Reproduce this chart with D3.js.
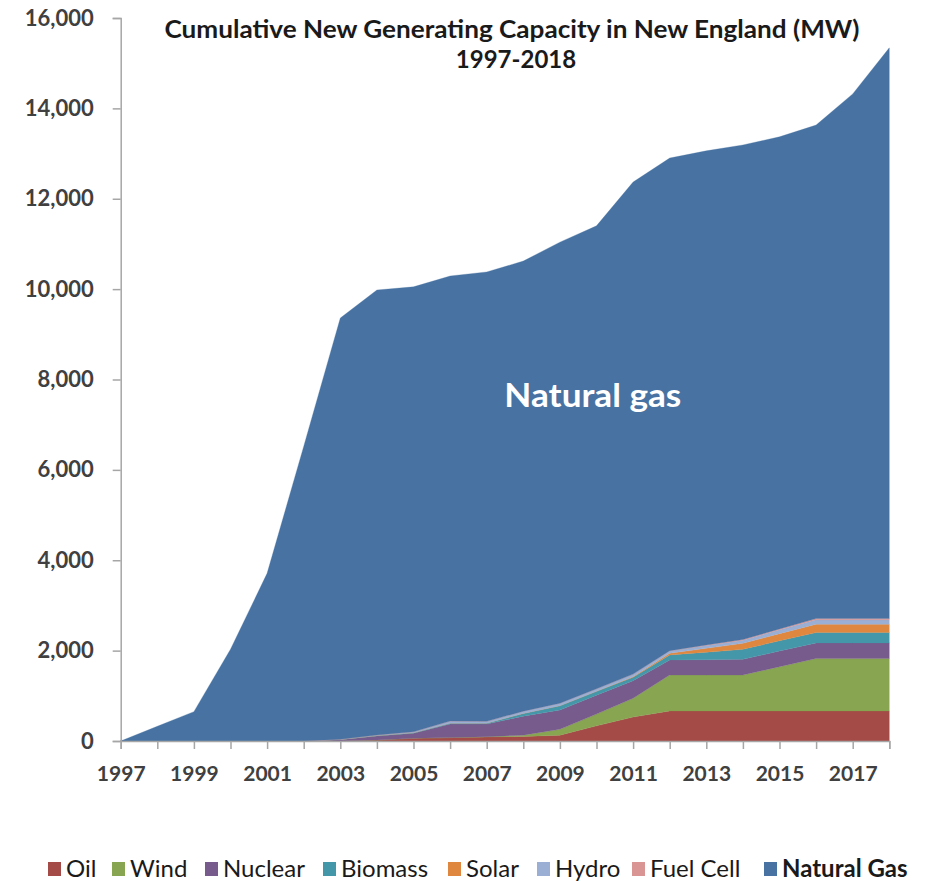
<!DOCTYPE html>
<html>
<head>
<meta charset="utf-8">
<script src="https://cdn.jsdelivr.net/npm/d3@7"></script>
<style>
  html, body { margin: 0; padding: 0; background: #ffffff; }
  svg { display: block; }
</style>
</head>
<body>
<svg id="chart" width="932" height="881"></svg>
<script>
// ---- DATA ----
const years = [1997,1998,1999,2000,2001,2002,2003,2004,2005,2006,2007,2008,2009,2010,2011,2012,2013,2014,2015,2016,2017,2018];
const oil      = [0,0,0,0,0,0,0,20,60,75,90,100,130,335,530,665,665,665,665,665,665,665];
const wind     = [0,0,0,0,0,0,0,0,0,0,5,30,128,260,415,795,795,795,980,1160,1160,1160];
const nuclear  = [0,0,0,0,0,0,30,90,110,300,280,420,428,420,390,335,340,347,347,346,346,346];
const biomass  = [0,0,0,0,0,0,5,10,15,20,20,60,95,85,75,110,165,222,226,230,230,230];
const solar    = [0,0,0,0,0,0,0,0,0,0,0,0,0,0,10,35,85,132,158,183,183,183];
const hydro    = [0,0,0,0,0,0,5,15,20,45,40,50,55,55,60,55,65,70,85,100,100,100];
const fuelCell = [0,0,0,0,0,0,0,0,0,0,0,0,0,0,0,5,10,15,20,25,25,25];
const naturalGas = [0,325,650,2030,3710,6520,9320,9845,9845,9850,9945,9960,10204,10245,10890,10900,10935,10944,10889,10921,11611,12631];

const seriesNames = ["Oil","Wind","Nuclear","Biomass","Solar","Hydro","Fuel Cell","Natural Gas"];
const seriesValues = [oil, wind, nuclear, biomass, solar, hydro, fuelCell, naturalGas];
const seriesColors = ["#a54b47","#88a552","#775b8c","#4497a9","#e0873f","#9aafd3","#d99594","#4872a2"];
const yTicks = [0,2000,4000,6000,8000,10000,12000,14000,16000];
const xTickLabels = [1997,1999,2001,2003,2005,2007,2009,2011,2013,2015,2017];
const titleLines = ["Cumulative New Generating Capacity in New England (MW)","1997-2018"];
const areaLabel = "Natural gas";

// ---- BUILD ----
const rows = years.map((yr, i) => {
  const r = { year: yr };
  seriesNames.forEach((n, k) => r[n] = seriesValues[k][i]);
  return r;
});

const svg = d3.select("#chart");
const W = 932, H = 881;
const margin = { left: 120.7, right: W - 889.3, top: 18, bottom: H - 741 };

const x = d3.scaleLinear().domain([1997, 2018]).range([margin.left, W - margin.right]);
const y = d3.scaleLinear().domain([0, 16000]).range([H - margin.bottom, margin.top]);

const stacked = d3.stack().keys(seriesNames)(rows);

const area = d3.area()
  .x(d => x(d.data.year))
  .y0(d => y(d[0]))
  .y1(d => y(d[1]));

const color = d3.scaleOrdinal().domain(seriesNames).range(seriesColors);

svg.append("g")
  .selectAll("path")
  .data(stacked)
  .join("path")
  .attr("d", area)
  .attr("fill", d => color(d.key))
  .attr("stroke", d => color(d.key))
  .attr("stroke-width", 0.3);

const axisColor = "#a6a6a6";
const fontFam = "Lato, 'Open Sans', 'DejaVu Sans', sans-serif";

// Y axis
const yAxis = d3.axisLeft(y).tickValues(yTicks).tickSize(8).tickPadding(19)
  .tickFormat(d3.format(","));
const gy = svg.append("g").attr("transform", `translate(${margin.left},0)`).call(yAxis);
gy.select(".domain").attr("stroke", axisColor).attr("stroke-width", 1.5);
gy.selectAll(".tick line").attr("stroke", axisColor).attr("stroke-width", 1.5);
gy.selectAll(".tick text")
  .attr("font-family", fontFam).attr("font-size", 22).attr("font-weight", 700)
  .attr("fill", "#404040");

// X axis
const xAxis = d3.axisBottom(x).tickValues(years).tickSize(8).tickPadding(17)
  .tickFormat(d => xTickLabels.includes(d) ? String(d) : "");
const gx = svg.append("g").attr("transform", `translate(0,${y(0)})`).call(xAxis);
gx.select(".domain").attr("stroke", axisColor).attr("stroke-width", 1.5);
gx.selectAll(".tick line").attr("stroke", axisColor).attr("stroke-width", 1.5);
gx.selectAll(".tick text")
  .attr("font-family", fontFam).attr("font-size", 21).attr("font-weight", 700)
  .attr("fill", "#404040");

// Title
svg.append("text")
  .attr("x", 512).attr("y", 38)
  .attr("text-anchor", "middle")
  .attr("font-family", fontFam).attr("font-size", 24).attr("font-weight", 700)
  .attr("fill", "#1a1a1a")
  .attr("textLength", 695).attr("lengthAdjust", "spacingAndGlyphs")
  .text(titleLines[0]);
svg.append("text")
  .attr("x", 516).attr("y", 68)
  .attr("text-anchor", "middle")
  .attr("font-family", fontFam).attr("font-size", 24).attr("font-weight", 700)
  .attr("fill", "#1a1a1a")
  .text(titleLines[1]);

// In-area label
svg.append("text")
  .attr("x", x(2009.9)).attr("y", y(7400))
  .attr("text-anchor", "middle")
  .attr("font-family", fontFam).attr("font-size", 33).attr("font-weight", 700)
  .attr("fill", "#ffffff")
  .attr("textLength", 177).attr("lengthAdjust", "spacingAndGlyphs")
  .text(areaLabel);

// Legend
const legendX = [48, 112, 205, 323, 448, 537, 632, 764];
const legendY = 869;
const lg = svg.append("g");
seriesNames.forEach((n, i) => {
  const g = lg.append("g").attr("transform", `translate(${legendX[i]},${legendY})`);
  g.append("rect").attr("x", 0).attr("y", -7).attr("width", 13).attr("height", 14).attr("fill", seriesColors[i]);
  g.append("text").attr("x", 18).attr("y", 8)
    .attr("font-family", fontFam).attr("font-size", 24)
    .attr("font-weight", n === "Natural Gas" ? 700 : 400)
    .attr("fill", "#1a1a1a")
    .text(n);
});
</script>
</body>
</html>
